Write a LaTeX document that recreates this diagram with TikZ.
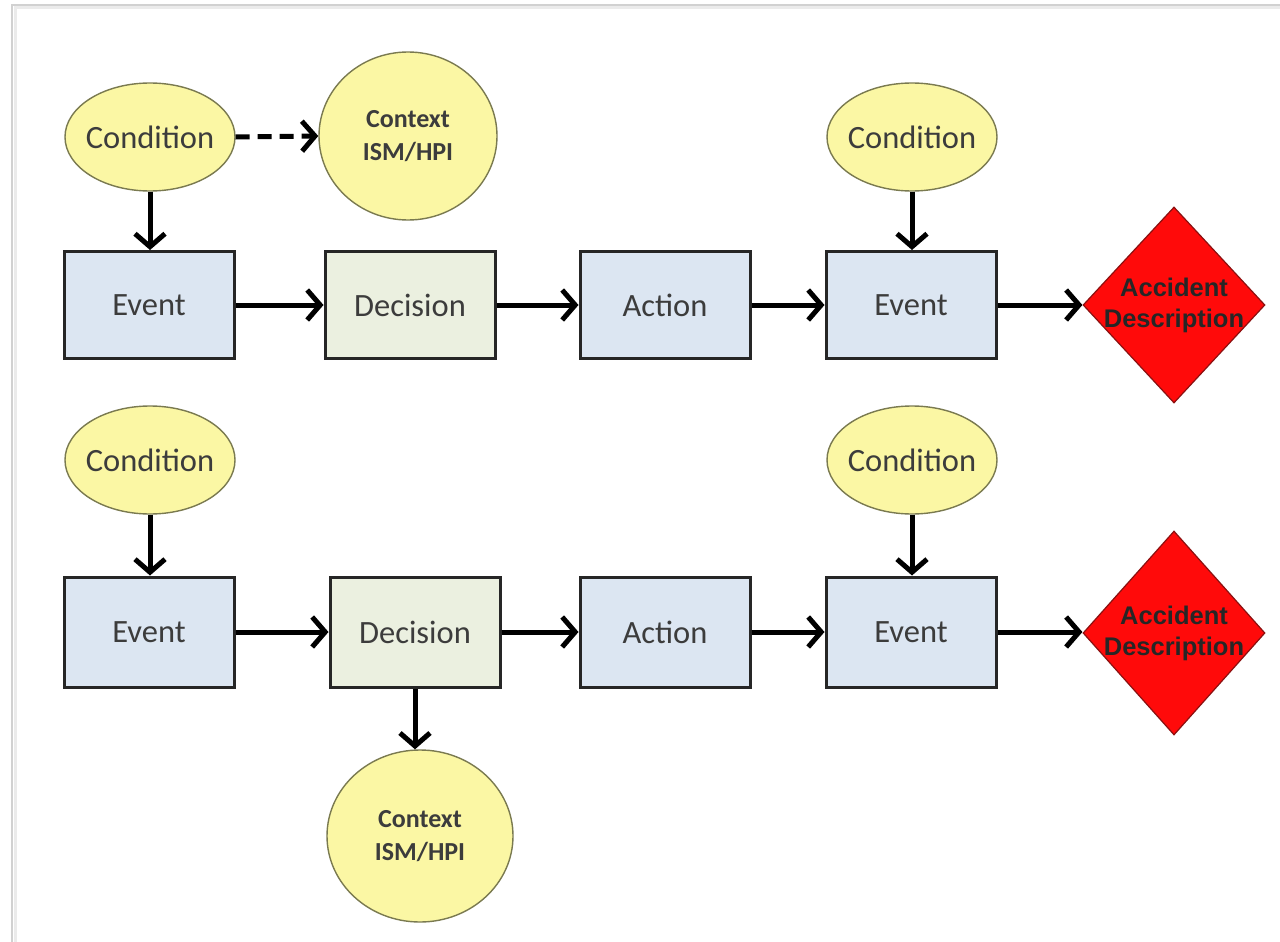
\documentclass[tikz,border=0pt]{standalone}
\usepackage{fontspec}
\setmainfont{Carlito}
\newfontfamily\arialfont{Liberation Sans}
\usetikzlibrary{arrows.meta,shapes.geometric}
\definecolor{condfill}{HTML}{FBF7A4}
\definecolor{condline}{HTML}{7A7A50}
\definecolor{eventfill}{HTML}{DCE6F2}
\definecolor{decfill}{HTML}{EBF0E0}
\definecolor{txtgray}{HTML}{3C3C3C}
\definecolor{accred}{HTML}{FF0A0A}
\definecolor{accline}{HTML}{8B1010}
\tikzset{
  x=1pt, y=-1pt,
  cond/.style={ellipse, draw=condline, fill=condfill, line width=1.4pt, minimum width=170pt, minimum height=108pt, inner xsep=-30pt, inner ysep=0pt, font=\fontsize{32.5}{34}\selectfont, text=txtgray},
  ctx/.style={ellipse, draw=condline, fill=condfill, line width=1.4pt, minimum width=178pt, minimum height=168pt, inner sep=0pt, font=\bfseries\fontsize{26}{33}\selectfont, text=txtgray, align=center},
  evbox/.style={rectangle, draw=black!85, fill=eventfill, line width=3pt, minimum width=170pt, minimum height=107pt, inner sep=0pt, font=\fontsize{32.5}{34}\selectfont, text=txtgray},
  decbox/.style={evbox, fill=decfill},
  acc/.style={diamond, draw=accline, fill=accred, line width=1.2pt, minimum width=182pt, minimum height=196pt, inner xsep=-40pt, inner ysep=0pt, font=\arialfont\bfseries\fontsize{25.5}{31}\selectfont, text=black!85, align=center},
  conn/.style={line width=5pt, -{Straight Barb[length=13pt, width=30pt, line width=5pt]}},
}
\begin{document}
\begin{tikzpicture}
\useasboundingbox (0,0) rectangle (1280,942);
\fill[white] (0,0) rectangle (1280,942);
% page frame
\draw[black!18, line width=2pt] (12,942) -- (12,5) -- (1280,5);
\draw[black!8, line width=3pt] (15,942) -- (15,8) -- (1280,8);

% top row
\node[cond] (c1) at (150,137) {Condition};
\node[ctx] (x1) at (408,136) {Context\\ISM/HPI};
\node[cond] (c2) at (912,137) {Condition};
\node[evbox] (e1) at (149,305) {Event};
\node[decbox] (d1) at (410,305) {Decision};
\node[evbox] (a1) at (665,305) {Action};
\node[evbox] (e2) at (911,305) {Event};
\node[acc] (z1) at (1174,305) {Accident\\Description};

\draw[conn, dash pattern=on 14pt off 8pt] (c1.east) -- (x1.west);
\draw[conn] (c1.south) -- (c1.south |- e1.north);
\draw[conn] (c2.south) -- (c2.south |- e2.north);
\draw[conn] (e1.east) -- (d1.west);
\draw[conn] (d1.east) -- (a1.west);
\draw[conn] (a1.east) -- (e2.west);
\draw[conn] (e2.east) -- (z1.west);

% bottom row
\node[cond] (c3) at (150,460) {Condition};
\node[cond] (c4) at (912,460) {Condition};
\node[evbox, minimum height=110pt] (e3) at (149,632) {Event};
\node[decbox, minimum height=110pt] (d2) at (415,632) {Decision};
\node[evbox, minimum height=110pt] (a2) at (665,632) {Action};
\node[evbox, minimum height=110pt] (e4) at (911,632) {Event};
\node[acc, minimum height=204pt] (z2) at (1174,633) {Accident\\Description};
\node[ctx, minimum width=186pt, minimum height=172pt] (x2) at (420,836) {Context\\ISM/HPI};

\draw[conn] (c3.south) -- (c3.south |- e3.north);
\draw[conn] (c4.south) -- (c4.south |- e4.north);
\draw[conn] (e3.east) -- (d2.west);
\draw[conn] (d2.east) -- (a2.west);
\draw[conn] (a2.east) -- (e4.west);
\draw[conn] (e4.east) -- (e4.east -| z2.west);
\draw[conn] (d2.south) -- (d2.south |- x2.north);
\end{tikzpicture}
\end{document}
